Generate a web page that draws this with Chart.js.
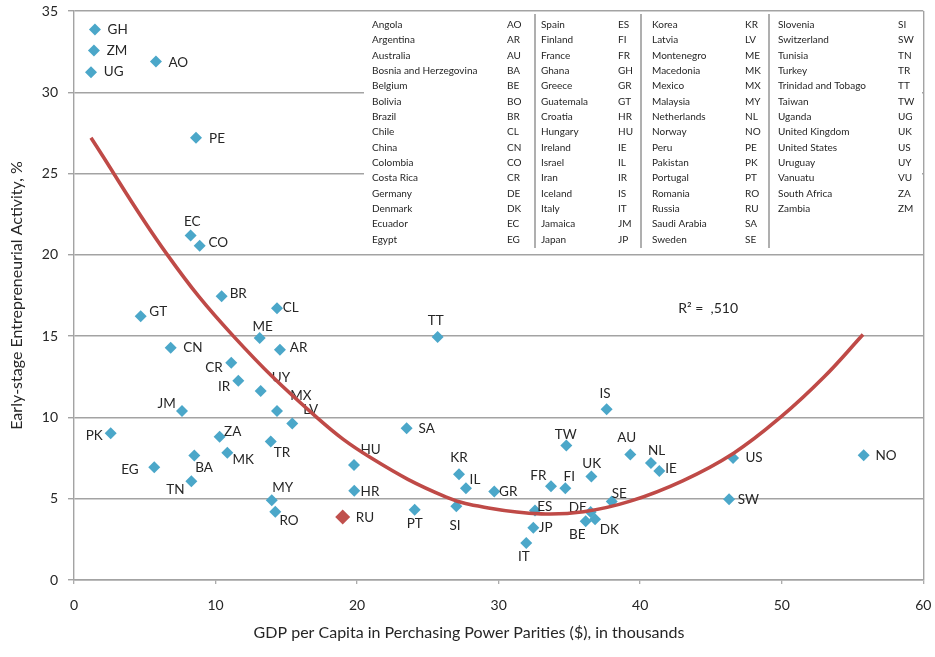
<!DOCTYPE html>
<html><head><meta charset="utf-8">
<script src="https://cdn.jsdelivr.net/npm/chart.js@4.4.1/dist/chart.umd.min.js"></script>
<style>html,body{margin:0;padding:0;background:#fff}#wrap{width:935px;height:657px}</style>
</head><body><div id="wrap"><canvas id="c" width="935" height="657"></canvas></div>
<script>
// ---------- DATA ----------
const countryCodes = ['GH','ZM','UG','AO','PE','EC','CO','BR','GT','CL','ME','CN','AR','CR','IR','UY','MX','LV','JM','PK','ZA','TR','MK','BA','EG','TN','MY','RO','HU','HR','RU','TT','SA','KR','IL','GR','PT','SI','TW','IS','AU','FR','FI','UK','SE','ES','JP','IT','DE','BE','DK','NL','IE','US','SW','NO'];
const gdpThousands = [1.48,1.41,1.20,5.79,8.62,8.24,8.88,10.43,4.71,14.34,13.12,6.83,14.55,11.11,11.61,13.19,14.34,15.42,7.63,2.59,10.29,13.90,10.83,8.50,5.67,8.29,13.97,14.22,19.78,19.80,18.98,25.69,23.50,27.20,27.69,29.69,24.07,27.01,34.78,37.63,39.30,33.70,34.71,36.55,37.99,32.57,32.45,31.95,36.50,36.15,36.81,40.76,41.35,46.56,46.28,55.79];
const teaPercent = [33.86,32.57,31.24,31.89,27.20,21.19,20.56,17.46,16.23,16.72,14.88,14.29,14.16,13.36,12.26,11.62,10.39,9.63,10.39,9.02,8.81,8.52,7.83,7.66,6.94,6.08,4.90,4.20,7.07,5.49,3.87,14.94,9.34,6.51,5.65,5.45,4.32,4.53,8.28,10.51,7.72,5.77,5.65,6.37,4.83,4.28,3.22,2.27,4.18,3.62,3.73,7.19,6.70,7.50,4.96,7.68];
const highlightedCodes = ['RU'];
const trendGdp = [1.2,6.6,11.26,17.15,21.0,26.3,29.5,33.0,36.0,39.3,43.0,46.6,49.9,53.0,55.74];
const trendTea = [27.2,20.0,15.0,10.0,7.5,5.1,4.4,4.07,4.2,4.85,6.1,7.8,10.0,12.5,15.1];
const xTickValues = [0,10,20,30,40,50,60];
const yTickValues = [0,5,10,15,20,25,30,35];
const rSquaredText = 'R² =  ,510';
const rSquaredAt = [44.8,16.7];
const xTitle = 'GDP per Capita in Perchasing Power Parities ($), in thousands';
const yTitle = 'Early-stage Entrepreneurial Activity, %';
const legendNames = ['Angola','Argentina','Australia','Bosnia and Herzegovina','Belgium','Bolivia','Brazil','Chile','China','Colombia','Costa Rica','Germany','Denmark','Ecuador','Egypt',
 'Spain','Finland','France','Ghana','Greece','Guatemala','Croatia','Hungary','Ireland','Israel','Iran','Iceland','Italy','Jamaica','Japan',
 'Korea','Latvia','Montenegro','Macedonia','Mexico','Malaysia','Netherlands','Norway','Peru','Pakistan','Portugal','Romania','Russia','Saudi Arabia','Sweden',
 'Slovenia','Switzerland','Tunisia','Turkey','Trinidad and Tobago','Taiwan','Uganda','United Kingdom','United States','Uruguay','Vanuatu','South Africa','Zambia'];
const legendCodes = ['AO','AR','AU','BA','BE','BO','BR','CL','CN','CO','CR','DE','DK','EC','EG',
 'ES','FI','FR','GH','GR','GT','HR','HU','IE','IL','IR','IS','IT','JM','JP',
 'KR','LV','ME','MK','MX','MY','NL','NO','PE','PK','PT','RO','RU','SA','SE',
 'SI','SW','TN','TR','TT','TW','UG','UK','US','UY','VU','ZA','ZM'];

// ---------- STYLE / LAYOUT ----------
const BLUE = '#4ba7c9', RED = '#c0504d', GRID = '#a3a3a3', TXT = '#262626';
const FONT = 'Lato, "Open Sans", sans-serif';
// label centre offsets (px) relative to each marker
const labelOffsets = {
GH:[22.7,0],ZM:[23,0],UG:[22.7,0],AO:[22.3,0.7],PE:[21,0.7],EC:[1.6,-14],CO:[18.6,-3],
BR:[16.6,-2.4],GT:[17.6,-4.4],CL:[13.7,-0.7],ME:[3,-11.7],CN:[22.3,0.4],AR:[18.7,-2.3],
CR:[-17.3,5],IR:[-14.3,6.4],UY:[20.3,-13],MX:[24,-15.7],LV:[18.4,-13.7],JM:[-15.3,-7.7],
PK:[-16.4,2],ZA:[13,-5.3],TR:[11.3,10.7],MK:[16,7],BA:[9.7,11.7],EG:[-24.3,2],TN:[-16,8.3],
MY:[11,-12.3],RO:[13.7,9.4],HU:[16.7,-15.7],HR:[15.7,1],RU:[22.3,0.6],TT:[-2,-16],SA:[20,0.6],
KR:[0,-16.4],IL:[9,-8.7],GR:[14,0.7],PT:[0,14],SI:[-1.3,19],TW:[-0.6,-11],IS:[-1.7,-15],
AU:[-3.6,-17.3],FR:[-12.7,-10.7],FI:[4,-11.7],UK:[0.4,-12.7],SE:[7.6,-8.3],ES:[9.7,-3.3],
JP:[12.4,0.4],IT:[-2.3,14],DE:[-13,-4.4],BE:[-8.4,13.6],DK:[14.3,10.3],NL:[5.7,-12],IE:[11.7,-2.4],
US:[21,-0.4],SW:[19.3,0],NO:[22.3,0.3]};

const normalIdx = countryCodes.map((c,i)=>i).filter(i=>!highlightedCodes.includes(countryCodes[i]));
const hiIdx = countryCodes.map((c,i)=>i).filter(i=>highlightedCodes.includes(countryCodes[i]));
const toPts = idx => idx.map(i=>({x:gdpThousands[i], y:teaPercent[i]}));

const labelPlugin = {
  id:'pointLabels',
  afterDatasetDraw(chart, args){
    const ds = chart.data.datasets[args.index];
    if(!ds.codes) return;
    const ctx = chart.ctx;
    ctx.save();
    ctx.font = '13.5px ' + FONT;
    ctx.fillStyle = TXT;
    ctx.textAlign = 'center';
    ctx.textBaseline = 'middle';
    args.meta.data.forEach((el,j)=>{
      const code = ds.codes[j];
      const off = labelOffsets[code] || [18,0];
      ctx.fillText(code, el.x + off[0], el.y + off[1]);
    });
    ctx.restore();
  }
};

const tablePlugin = {
  id:'codeTable',
  beforeDatasetsDraw(chart){
    const ctx = chart.ctx;
    ctx.save();
    ctx.fillStyle = '#fff';
    ctx.fillRect(364, 12.5, 558, 238);
    ctx.strokeStyle = '#7a7a7a';
    ctx.lineWidth = 1.2;
    [535, 641, 769].forEach(x=>{ctx.beginPath();ctx.moveTo(x,14);ctx.lineTo(x,248);ctx.stroke();});
    ctx.font = '10px ' + FONT;
    ctx.fillStyle = TXT;
    ctx.textBaseline = 'middle';
    ctx.textAlign = 'left';
    const cols = [[372,507],[541,618],[652,745],[778,898]];
    legendNames.forEach((n,i)=>{
      const c = Math.floor(i/15), r = i%15;
      const y = 24.7 + r*15.33;
      ctx.fillText(n, cols[c][0], y);
      ctx.fillText(legendCodes[i], cols[c][1], y);
    });
    ctx.restore();
  }
};

const textPlugin = {
  id:'extraText',
  afterDraw(chart){
    const ctx = chart.ctx, xs = chart.scales.x, ys = chart.scales.y;
    ctx.save();
    ctx.fillStyle = TXT;
    ctx.textAlign = 'center';
    ctx.textBaseline = 'middle';
    ctx.font = '14px ' + FONT;
    ctx.fillText(rSquaredText, xs.getPixelForValue(rSquaredAt[0]), ys.getPixelForValue(rSquaredAt[1]));
    ctx.font = '16px ' + FONT;
    ctx.fillText(xTitle, 469, 633);
    ctx.restore();
  }
};

new Chart(document.getElementById('c'), {
  type:'scatter',
  data:{datasets:[
    {type:'line', label:'trend', data: trendGdp.map((x,i)=>({x, y:trendTea[i]})), borderColor:'#bf4a47', borderWidth:3.6,
     pointRadius:0, fill:false, tension:0.4, order:0},
    {label:'countries', data: toPts(normalIdx), codes: normalIdx.map(i=>countryCodes[i]),
     pointStyle:'rectRot', pointRadius:6, backgroundColor:BLUE, borderColor:BLUE, borderWidth:0, order:1},
    {label:'highlight', data: toPts(hiIdx), codes: hiIdx.map(i=>countryCodes[i]),
     pointStyle:'rectRot', pointRadius:7.5, backgroundColor:RED, borderColor:RED, borderWidth:0, order:2}
  ]},
  options:{
    responsive:false, animation:false, devicePixelRatio:1,
    layout:{padding:{left:0, top:11, right:11.7, bottom:0}},
    plugins:{legend:{display:false}, tooltip:{enabled:false}},
    scales:{
      x:{type:'linear', min:0, max:60,
         afterBuildTicks: s => { s.ticks = xTickValues.map(v=>({value:v})); },
         afterFit: s => { s.height = 77; s.paddingLeft = 0; s.paddingRight = 0; },
         grid:{color: c => (c.tick && c.tick.value===60) ? GRID : 'rgba(0,0,0,0)', lineWidth:1.4,
               drawTicks:true, tickLength:4, tickColor:GRID, tickWidth:1.2},
         border:{color:GRID, width:1.4},
         ticks:{padding:13, color:TXT, font:{family:FONT, size:14}}},
      y:{type:'linear', min:0, max:35,
         afterBuildTicks: s => { s.ticks = yTickValues.map(v=>({value:v})); },
         afterFit: s => { s.width = 74; s.paddingTop = 0; s.paddingBottom = 0; },
         grid:{color:GRID, lineWidth:1.4, drawTicks:true, tickLength:6, tickColor:GRID},
         border:{color:GRID, width:1.4},
         ticks:{padding:10, color:TXT, font:{family:FONT, size:14}},
         title:{display:true, text:yTitle, color:TXT, font:{family:FONT, size:16}, padding:{top:7, bottom:0}}}
    }
  },
  plugins:[labelPlugin, tablePlugin, textPlugin]
});
</script></body></html>
